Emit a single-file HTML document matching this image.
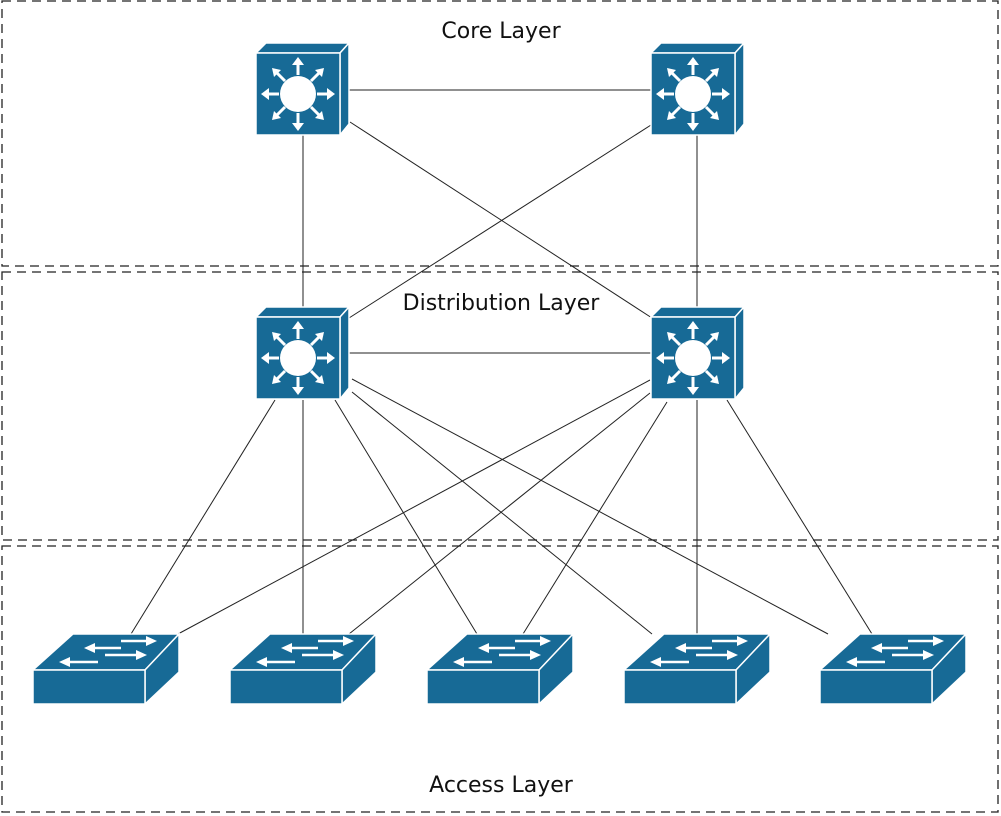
<!DOCTYPE html>
<html><head><meta charset="utf-8"><style>
html,body{margin:0;padding:0;background:#fff;}
svg{display:block;}
text{font-family:"DejaVu Sans","Liberation Sans",sans-serif;font-size:22px;fill:#111;}
</style></head><body>
<svg width="1001" height="816" viewBox="0 0 1001 816" xmlns="http://www.w3.org/2000/svg">
<defs>
<g id="r">
  <polygon points="0,10 10,0 93,0 84,10" fill="#176a96" stroke="#fff" stroke-width="1.5"/>
  <polygon points="84,10 93,0 93,81 84,92" fill="#176a96" stroke="#fff" stroke-width="1.5"/>
  <rect x="0" y="10" width="84" height="82" fill="#176a96" stroke="#fff" stroke-width="1.5"/>
  <circle cx="42" cy="51" r="18" fill="#fff"/>
  <g stroke="#fff" stroke-width="3" fill="#fff">
    <line x1="42" y1="32" x2="42" y2="20"/><line x1="42" y1="70" x2="42" y2="82"/>
    <line x1="23" y1="51" x2="11" y2="51"/><line x1="61" y1="51" x2="73" y2="51"/>
    <line x1="29" y1="38" x2="20" y2="29"/><line x1="55" y1="38" x2="64" y2="29"/>
    <line x1="29" y1="64" x2="20" y2="73"/><line x1="55" y1="64" x2="64" y2="73"/>
  </g>
  <g fill="#fff">
    <polygon points="42,14 36,22 48,22"/><polygon points="42,88 36,80 48,80"/>
    <polygon points="5,51 13,45 13,57"/><polygon points="79,51 71,45 71,57"/>
    <polygon points="16,25 25,27 18,34"/><polygon points="68,25 59,27 66,34"/>
    <polygon points="16,77 25,75 18,68"/><polygon points="68,77 59,75 66,68"/>
  </g>
</g>
<g id="s">
  <polygon points="0,36 40,0 146,0 112,36" fill="#176a96" stroke="#fff" stroke-width="1.5"/>
  <polygon points="112,36 146,0 146,38 112,70" fill="#176a96" stroke="#fff" stroke-width="1.5"/>
  <rect x="0" y="36" width="112" height="34" fill="#176a96" stroke="#fff" stroke-width="1.5"/>
  <g stroke="#fff" stroke-width="2.5">
    <line x1="88" y1="7" x2="115" y2="7"/><line x1="60" y1="14" x2="88" y2="14"/>
    <line x1="72" y1="21" x2="105" y2="21"/><line x1="35" y1="28" x2="65" y2="28"/>
  </g>
  <g fill="#fff">
    <polygon points="124,7 113,2 113,12"/><polygon points="51,14 62,9 62,19"/>
    <polygon points="114,21 103,16 103,26"/><polygon points="26,28 37,23 37,33"/>
  </g>
</g>
</defs>
<g fill="none" stroke="#222" stroke-width="1.3" stroke-dasharray="9,6">
  <rect x="2" y="1" width="996" height="265"/>
  <rect x="2" y="272" width="996" height="268"/>
  <rect x="2" y="546" width="996" height="266"/>
</g>
<g stroke="#222" stroke-width="1" fill="none">
  <line x1="349" y1="90" x2="651" y2="90"/>
  <line x1="303" y1="135" x2="303" y2="307"/>
  <line x1="697" y1="135" x2="697" y2="307"/>
  <line x1="350" y1="122" x2="652" y2="318"/>
  <line x1="651" y1="125" x2="349" y2="318"/>
  <line x1="349" y1="353" x2="651" y2="353"/>
  <line x1="275" y1="400" x2="131" y2="634"/>
  <line x1="303" y1="400" x2="303" y2="634"/>
  <line x1="335" y1="400" x2="477" y2="634"/>
  <line x1="352" y1="379" x2="828" y2="634"/>
  <line x1="352" y1="392" x2="652" y2="634"/>
  <line x1="650" y1="380" x2="178" y2="634"/>
  <line x1="650" y1="393" x2="349" y2="634"/>
  <line x1="667" y1="402" x2="523" y2="634"/>
  <line x1="697" y1="400" x2="697" y2="634"/>
  <line x1="727" y1="400" x2="872" y2="634"/>
</g>
<use href="#r" x="256" y="43"/>
<use href="#r" x="651" y="43"/>
<use href="#r" x="256" y="307"/>
<use href="#r" x="651" y="307"/>
<use href="#s" x="33" y="634"/>
<use href="#s" x="230" y="634"/>
<use href="#s" x="427" y="634"/>
<use href="#s" x="624" y="634"/>
<use href="#s" x="820" y="634"/>
<text x="501" y="38" text-anchor="middle">Core Layer</text>
<text x="501" y="310" text-anchor="middle">Distribution Layer</text>
<text x="501" y="792" text-anchor="middle">Access Layer</text>
</svg>
</body></html>
